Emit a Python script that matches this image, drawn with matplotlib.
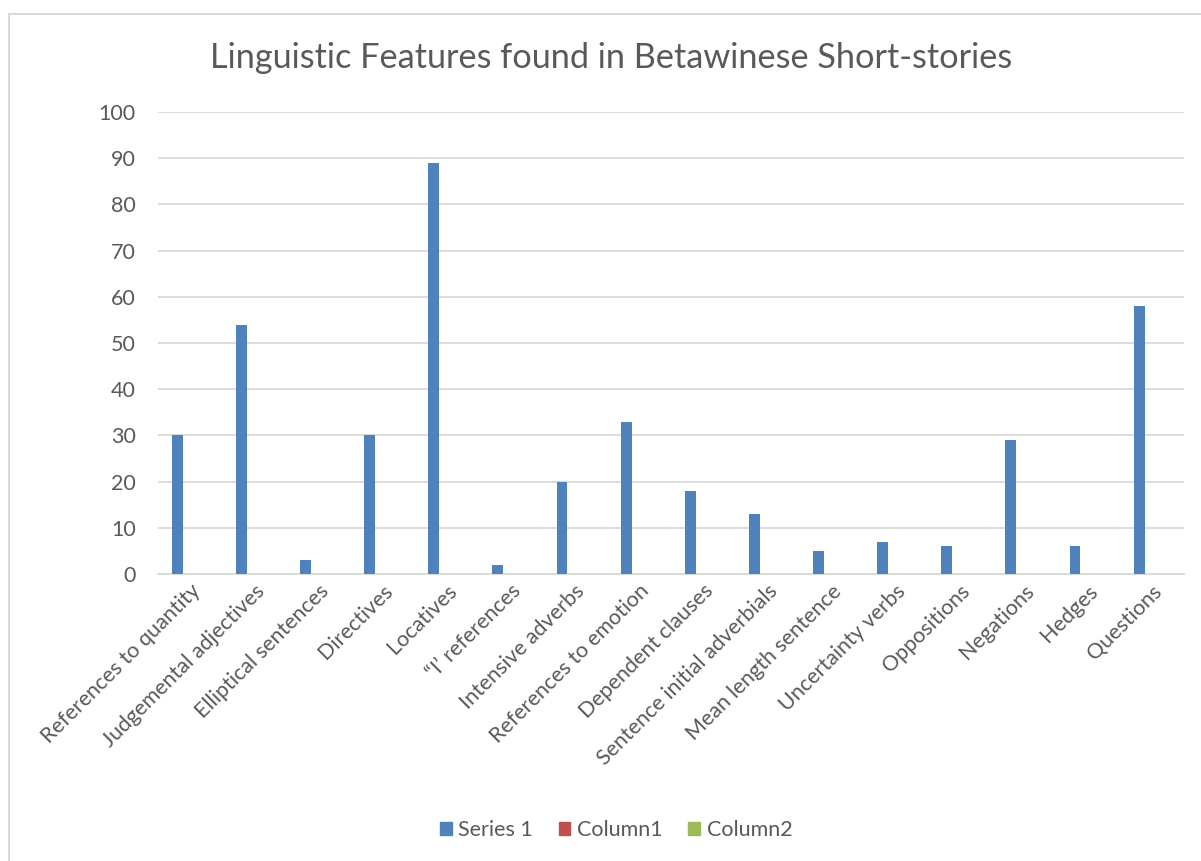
import matplotlib.pyplot as plt
import numpy as np
from matplotlib.patches import Rectangle, Patch

categories = ["References to quantity", "Judgemental adjectives", "Elliptical sentences",
              "Directives", "Locatives", "\u201cI\u2019 references", "Intensive adverbs",
              "References to emotion", "Dependent clauses", "Sentence initial adverbials",
              "Mean length sentence", "Uncertainty verbs", "Oppositions", "Negations",
              "Hedges", "Questions"]
series1 = [30, 54, 3, 30, 89, 2, 20, 33, 18, 13, 5, 7, 6, 29, 6, 58]
column1 = [0] * 16
column2 = [0] * 16
yticks = list(range(0, 101, 10))

plt.rcParams['font.family'] = ['Lato', 'DejaVu Sans']
txt = '#595959'
grid = '#D9D9D9'

fig = plt.figure(figsize=(12.01, 8.61), dpi=100)
W, H = 1201, 861
ax = fig.add_axes([158 / W, 1 - 574 / H, (1184 - 158) / W, (574 - 112) / H])

x = np.arange(len(categories))
w = 0.17
ax.bar(x - 0.2, series1, width=w, color='#4F81BD', zorder=3)
ax.bar(x, column1, width=w, color='#C0504D', zorder=3)
ax.bar(x + 0.2, column2, width=w, color='#9BBB59', zorder=3)

ax.set_xlim(-0.5, len(categories) - 0.5)
ax.set_ylim(0, 100)
ax.set_yticks(yticks)
ax.yaxis.grid(True, color=grid, lw=1.3, zorder=0)
for s in ['top', 'right', 'left']:
    ax.spines[s].set_visible(False)
ax.spines['bottom'].set_color(grid)
ax.spines['bottom'].set_linewidth(1.3)
ax.tick_params(axis='both', length=0, colors=txt, labelsize=15.5)
ax.tick_params(axis='y', pad=16)
ax.set_xticks(x)
ax.set_xticklabels(categories, rotation=45, ha='right', rotation_mode='anchor')
for lbl in ax.get_xticklabels():
    lbl.set_color(txt)
ax.tick_params(axis='x', pad=5)

fig.text(611 / W, 1 - 58 / H, "Linguistic Features found in Betawinese Short-stories",
         ha='center', va='center', fontsize=24.7, color=txt)

handles = [Patch(color='#4F81BD'), Patch(color='#C0504D'), Patch(color='#9BBB59')]
fig.legend(handles, ["Series 1", "Column1", "Column2"], loc='center',
           bbox_to_anchor=(616 / W, 1 - 830 / H), ncol=3, frameon=False,
           fontsize=15.5, labelcolor=txt, handlelength=0.55, handleheight=0.55,
           handletextpad=0.3, columnspacing=1.2)

fig.patches.append(Rectangle((9 / W, -0.01), 1.1, 1 - 14 / H + 0.01, transform=fig.transFigure,
                             fill=False, edgecolor=grid, lw=1.5))

fig.savefig('out.png', dpi=100)
